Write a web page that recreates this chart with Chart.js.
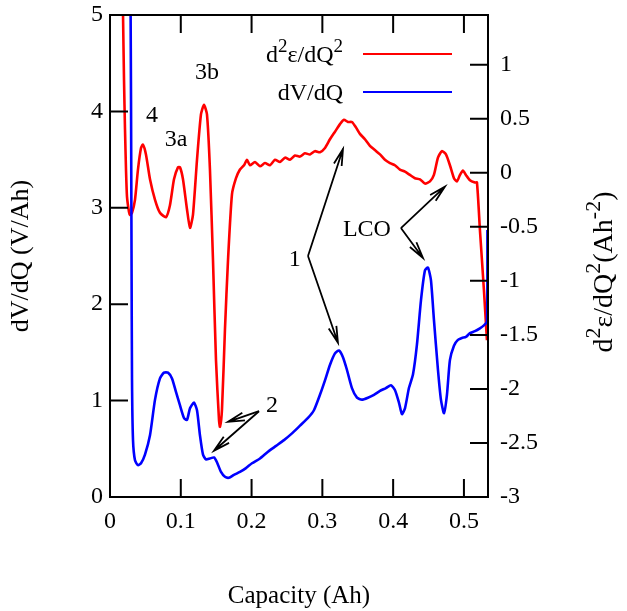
<!DOCTYPE html>
<html>
<head>
<meta charset="utf-8">
<script src="https://cdn.jsdelivr.net/npm/chart.js@4/dist/chart.umd.min.js"></script>
<style>
  body { margin: 0; background: #fff; }
  #wrap { width: 627px; height: 611px; }
</style>
</head>
<body>
<div id="wrap"><canvas id="dqChart" width="627" height="611"></canvas></div>
<script>
// d2e/dQ2 curve (right axis)
const capRed = [0.0177, 0.0184, 0.0198, 0.0212, 0.0226, 0.0240, 0.0268, 0.0282, 0.0311, 0.0353,
  0.0395, 0.0438, 0.0466, 0.0508, 0.0565, 0.0636, 0.0706, 0.0791, 0.0847, 0.0904,
  0.0960, 0.0989, 0.1031, 0.1088, 0.1130, 0.1172, 0.1229, 0.1285, 0.1328, 0.1370,
  0.1412, 0.1455, 0.1497, 0.1540, 0.1554, 0.1582, 0.1624, 0.1667, 0.1723, 0.1780,
  0.1836, 0.1893, 0.1935, 0.1977, 0.2048, 0.2119, 0.2189, 0.2260, 0.2331, 0.2401,
  0.2472, 0.2542, 0.2613, 0.2684, 0.2754, 0.2825, 0.2895, 0.2966, 0.3037, 0.3107,
  0.3178, 0.3249, 0.3305, 0.3362, 0.3418, 0.3475, 0.3531, 0.3602, 0.3672, 0.3743,
  0.3814, 0.3884, 0.3955, 0.4025, 0.4096, 0.4167, 0.4237, 0.4308, 0.4379, 0.4449,
  0.4520, 0.4576, 0.4633, 0.4689, 0.4746, 0.4802, 0.4859, 0.4901, 0.4944, 0.4986,
  0.5028, 0.5085, 0.5155, 0.5184, 0.5226, 0.5282, 0.5325];
const d2eRed = [1.80, 1.46, 0.86, 0.40, 0.03, -0.22, -0.36, -0.39, -0.37, -0.25,
  0.03, 0.23, 0.26, 0.17, -0.06, -0.25, -0.37, -0.41, -0.30, -0.06,
  0.05, 0.05, -0.06, -0.34, -0.51, -0.39, 0.12, 0.54, 0.63, 0.54,
  0.03, -0.81, -1.73, -2.29, -2.35, -2.19, -1.45, -0.81, -0.20, -0.05,
  0.03, 0.07, 0.12, 0.07, 0.10, 0.06, 0.09, 0.07, 0.12, 0.10,
  0.14, 0.12, 0.16, 0.15, 0.18, 0.17, 0.20, 0.19, 0.23, 0.31,
  0.38, 0.45, 0.49, 0.47, 0.47, 0.42, 0.36, 0.31, 0.25, 0.21,
  0.17, 0.12, 0.09, 0.07, 0.03, 0.01, -0.02, -0.05, -0.06, -0.10,
  -0.08, -0.02, 0.14, 0.20, 0.17, 0.07, -0.05, -0.08, -0.02, 0.02,
  -0.02, -0.07, -0.09, -0.09, -0.53, -1.08, -1.55];

// dV/dQ curve (left axis)
const capBlue = [0.0290, 0.0297, 0.0304, 0.0311, 0.0325, 0.0353, 0.0395, 0.0438, 0.0494, 0.0565,
  0.0636, 0.0706, 0.0763, 0.0819, 0.0876, 0.0932, 0.0989, 0.1045, 0.1088, 0.1130,
  0.1186, 0.1229, 0.1271, 0.1314, 0.1356, 0.1412, 0.1469, 0.1511, 0.1568, 0.1624,
  0.1681, 0.1751, 0.1836, 0.1921, 0.2006, 0.2119, 0.2232, 0.2345, 0.2458, 0.2571,
  0.2684, 0.2797, 0.2881, 0.2966, 0.3037, 0.3107, 0.3178, 0.3234, 0.3291, 0.3347,
  0.3418, 0.3489, 0.3559, 0.3644, 0.3729, 0.3814, 0.3898, 0.3969, 0.4025, 0.4082,
  0.4124, 0.4167, 0.4223, 0.4280, 0.4336, 0.4393, 0.4449, 0.4492, 0.4534, 0.4576,
  0.4633, 0.4675, 0.4718, 0.4760, 0.4802, 0.4859, 0.4915, 0.4972, 0.5028, 0.5085,
  0.5155, 0.5226, 0.5282, 0.5325, 0.5332];
const dvdqBlue = [5.20, 4.12, 2.56, 1.21, 0.59, 0.38, 0.33, 0.35, 0.44, 0.64,
  1.01, 1.23, 1.29, 1.29, 1.23, 1.09, 0.95, 0.82, 0.80, 0.92,
  0.98, 0.90, 0.64, 0.44, 0.39, 0.40, 0.41, 0.36, 0.26, 0.21,
  0.20, 0.23, 0.26, 0.30, 0.35, 0.40, 0.47, 0.53, 0.59, 0.66,
  0.74, 0.82, 0.90, 1.06, 1.21, 1.37, 1.49, 1.52, 1.45, 1.32,
  1.13, 1.03, 1.01, 1.03, 1.06, 1.10, 1.13, 1.16, 1.11, 0.98,
  0.86, 0.92, 1.13, 1.27, 1.58, 2.04, 2.35, 2.38, 2.25, 1.84,
  1.32, 1.01, 0.87, 1.06, 1.42, 1.57, 1.63, 1.65, 1.66, 1.70,
  1.72, 1.75, 1.78, 1.82, 2.77];

const xTicks = [0, 0.1, 0.2, 0.3, 0.4, 0.5];
const yTicks = [0, 1, 2, 3, 4, 5];
const y2Ticks = [-3, -2.5, -2, -1.5, -1, -0.5, 0, 0.5, 1];

// text labels and arrows, in (capacity, dV/dQ) units
const labels = [
  { text: '4', x: 0.0593, y: 3.96 },
  { text: '3a', x: 0.0932, y: 3.71 },
  { text: '3b', x: 0.137, y: 4.40 },
  { text: '1', x: 0.261, y: 2.46 },
  { text: 'LCO', x: 0.363, y: 2.77 },
  { text: '2', x: 0.229, y: 0.95 }
];
const arrows = [
  [0.2797, 2.50, 0.3291, 3.61],
  [0.2797, 2.50, 0.3220, 1.60],
  [0.4110, 2.79, 0.4732, 3.22],
  [0.4110, 2.79, 0.4421, 2.48],
  [0.2105, 0.89, 0.1667, 0.78],
  [0.2105, 0.89, 0.1469, 0.48]
];

const FONT = "'Liberation Serif', 'Times New Roman', serif";

// text with raised, smaller superscript pieces
const d2eText = [{ t: 'd' }, { t: '2', sup: true }, { t: 'ε/dQ' }, { t: '2', sup: true }];
const y2Title = d2eText.concat([{ t: '(Ah' }, { t: '-2', sup: true }, { t: ')' }]);

function toPoints(xs, ys) {
  return xs.map((x, i) => ({ x: x, y: ys[i] }));
}

function drawRich(ctx, parts, x, y, align, size) {
  const small = Math.round(size * 0.8);
  const widths = parts.map(p => {
    ctx.font = (p.sup ? small : size) + 'px ' + FONT;
    return ctx.measureText(p.t).width;
  });
  const total = widths.reduce((s, w) => s + w, 0);
  let cx = align === 'right' ? x - total : (align === 'center' ? x - total / 2 : x);
  ctx.textAlign = 'left';
  ctx.textBaseline = 'alphabetic';
  parts.forEach((p, i) => {
    ctx.font = (p.sup ? small : size) + 'px ' + FONT;
    ctx.fillText(p.t, cx, p.sup ? y - size * 0.42 : y);
    cx += widths[i];
  });
}

// gnuplot style frame, inward ticks, key, right title and annotations
const framePlugin = {
  id: 'frame',
  afterDatasetsDraw(chart) {
    const ctx = chart.ctx;
    const a = chart.chartArea;
    const sx = chart.scales.x, sy = chart.scales.y, sy2 = chart.scales.y2;
    const tick = 18;
    ctx.save();
    ctx.strokeStyle = '#000';
    ctx.lineWidth = 2;
    ctx.beginPath();
    xTicks.forEach(v => {
      const p = sx.getPixelForValue(v);
      ctx.moveTo(p, a.bottom); ctx.lineTo(p, a.bottom - tick);
      ctx.moveTo(p, a.top); ctx.lineTo(p, a.top + tick);
    });
    yTicks.forEach(v => {
      const p = sy.getPixelForValue(v);
      ctx.moveTo(a.left, p); ctx.lineTo(a.left + tick, p);
    });
    y2Ticks.forEach(v => {
      const p = sy2.getPixelForValue(v);
      ctx.moveTo(a.right, p); ctx.lineTo(a.right - tick, p);
    });
    ctx.stroke();
    ctx.strokeRect(a.left, a.top, a.right - a.left, a.bottom - a.top);

    // key
    ctx.fillStyle = '#000';
    const keys = [[d2eText, '#ff0000', 54], [[{ t: 'dV/dQ' }], '#0000ff', 92]];
    keys.forEach(k => {
      drawRich(ctx, k[0], 343, k[2] + 8, 'right', 24);
      ctx.strokeStyle = k[1];
      ctx.lineWidth = 2;
      ctx.beginPath();
      ctx.moveTo(363, k[2]);
      ctx.lineTo(452, k[2]);
      ctx.stroke();
    });

    // annotations
    ctx.font = '24px ' + FONT;
    ctx.textAlign = 'center';
    ctx.textBaseline = 'middle';
    labels.forEach(l => {
      ctx.fillText(l.text, sx.getPixelForValue(l.x), sy.getPixelForValue(l.y));
    });
    ctx.strokeStyle = '#000';
    ctx.lineWidth = 1.8;
    arrows.forEach(r => {
      const x0 = sx.getPixelForValue(r[0]), y0 = sy.getPixelForValue(r[1]);
      const x1 = sx.getPixelForValue(r[2]), y1 = sy.getPixelForValue(r[3]);
      const ang = Math.atan2(y1 - y0, x1 - x0);
      const len = 17, spread = 0.24;
      ctx.beginPath();
      ctx.moveTo(x0, y0); ctx.lineTo(x1, y1);
      ctx.moveTo(x1 - len * Math.cos(ang - spread), y1 - len * Math.sin(ang - spread));
      ctx.lineTo(x1, y1);
      ctx.lineTo(x1 - len * Math.cos(ang + spread), y1 - len * Math.sin(ang + spread));
      ctx.stroke();
    });

    // right axis title reads bottom to top
    ctx.translate(612, (a.top + a.bottom) / 2 + 16);
    ctx.rotate(-Math.PI / 2);
    drawRich(ctx, y2Title, 0, 0, 'center', 28);
    ctx.restore();
  }
};

const tickFont = { family: FONT, size: 24 };

function noPad(s) {
  s.paddingTop = 0;
  s.paddingBottom = 0;
}

new Chart(document.getElementById('dqChart').getContext('2d'), {
  type: 'line',
  data: {
    datasets: [
      {
        label: 'dV/dQ',
        data: toPoints(capBlue, dvdqBlue),
        yAxisID: 'y',
        borderColor: '#0000ff',
        borderWidth: 2.6,
        pointRadius: 0,
        tension: 0.2
      },
      {
        label: 'd²ε/dQ²',
        data: toPoints(capRed, d2eRed),
        yAxisID: 'y2',
        borderColor: '#ff0000',
        borderWidth: 2.6,
        pointRadius: 0,
        tension: 0.2
      }
    ]
  },
  options: {
    responsive: false,
    animation: false,
    events: [],
    layout: { padding: { top: 15, left: 0, right: 0, bottom: 0 } },
    plugins: { legend: { display: false }, tooltip: { enabled: false } },
    scales: {
      x: {
        type: 'linear',
        min: 0,
        max: 0.534,
        afterBuildTicks: s => { s.ticks = xTicks.map(v => ({ value: v })); },
        afterFit: s => { s.height = 114; s.paddingLeft = 0; s.paddingRight = 0; },
        grid: { display: false, drawTicks: false },
        border: { display: false },
        ticks: { font: tickFont, color: '#000', padding: 10, maxRotation: 0, callback: v => String(v) },
        title: { display: true, text: 'Capacity (Ah)', font: { family: FONT, size: 25 }, color: '#000', padding: { top: 0, bottom: 0 } }
      },
      y: {
        type: 'linear',
        position: 'left',
        min: 0,
        max: 5,
        afterBuildTicks: s => { s.ticks = yTicks.map(v => ({ value: v })); },
        afterFit: s => { s.width = 110; noPad(s); },
        grid: { display: false, drawTicks: false },
        border: { display: false },
        ticks: { font: tickFont, color: '#000', padding: 7, callback: v => String(v) },
        title: { display: true, text: 'dV/dQ (V/Ah)', font: { family: FONT, size: 26 }, color: '#000', padding: { top: 6, bottom: 0 } }
      },
      y2: {
        type: 'linear',
        position: 'right',
        min: -3,
        max: 1.46,
        afterBuildTicks: s => { s.ticks = y2Ticks.map(v => ({ value: v })); },
        afterFit: s => { s.width = 139; noPad(s); },
        grid: { display: false, drawTicks: false },
        border: { display: false },
        ticks: { font: tickFont, color: '#000', padding: 12, callback: v => String(v) }
      }
    }
  },
  plugins: [framePlugin]
});
</script>
</body>
</html>
